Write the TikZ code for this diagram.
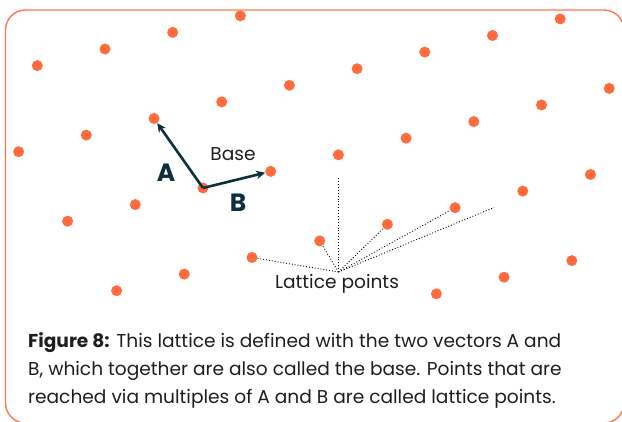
\documentclass[tikz,border=0pt]{standalone}
\usepackage{fontspec}
\setmainfont{Poppins}
\usetikzlibrary{arrows.meta}
\definecolor{dotc}{RGB}{255,107,61}
\definecolor{framec}{RGB}{255,120,80}
\definecolor{vec}{RGB}{12,48,60}
\definecolor{txt}{RGB}{30,30,30}
\begin{document}
\begin{tikzpicture}[x=1pt,y=-1pt,
  dot/.style={circle,fill=dotc,draw=none,minimum size=11pt,inner sep=0pt},
  vecarrow/.style={draw=vec,line width=2.6pt,-{Stealth[length=9pt,width=8.5pt]}},
  lead/.style={draw=black,line width=0.9pt,dotted},
  veclabel/.style={font=\fontsize{25}{28}\selectfont\bfseries,text=vec,anchor=base,inner sep=0pt},
  plain/.style={font=\fontsize{18.6}{22}\selectfont,text=txt,inner sep=0pt},
  caption/.style={plain,anchor=base west}]
\useasboundingbox (0,0) rectangle (622,422);
\begin{scope}
\clip (0,0) rectangle (622,422);
\draw[framec,line width=1.4pt,rounded corners=20pt] (5.5,10) rectangle (624,423);
\end{scope}
% lattice points: a' (A index +2), b' (B index +2)
\foreach \a/\b in {4/1,4/2,4/3,4/4,
  3/0,3/1,3/2,3/3,3/4,3/5,3/6,3/7,3/8,
  2/0,2/1,2/2,2/3,2/4,2/5,2/6,2/7,2/8,
  1/0,1/1,1/2,1/3,1/4,1/5,1/6,1/7,
  0/4,0/5,0/6}
  \node[dot] (p\a\b) at ({203+67.7*(\b-2)-49*(\a-2)},{188-16.6*(\b-2)-69.5*(\a-2)}) {};
% base vectors
\draw[vecarrow] (p22.center) -- (p32);
\draw[vecarrow] (p22.center) -- (p23);
\node[veclabel] (la) at (166,181.5) {A};
\node[veclabel] (lb) at (238,211.5) {B};
\node[plain,anchor=base] (base) at (233,160.5) {Base};
% lattice points label and leaders
\coordinate (hub) at (338.5,272);
\coordinate (up) at (338.5,177);
\coordinate (far) at (494,207.5);
\node[plain,anchor=base] (lp) at (337,289) {Lattice points};
\draw[lead] (hub) -- (up);
\draw[lead] (hub) -- (p13);
\draw[lead] (hub) -- (p14);
\draw[lead] (hub) -- (p15);
\draw[lead] (hub) -- (far);
\draw[lead] (hub) -- (p12);
% caption
\node[caption] (c1) at (28,348) {\textbf{Figure 8:} This lattice is defined with the two vectors A and};
\node[caption] (c2) at (28,375.5) {B, which together are also called the base. Points that are};
\node[caption] (c3) at (28,403) {reached via multiples of A and B are called lattice points.};
\end{tikzpicture}
\end{document}
